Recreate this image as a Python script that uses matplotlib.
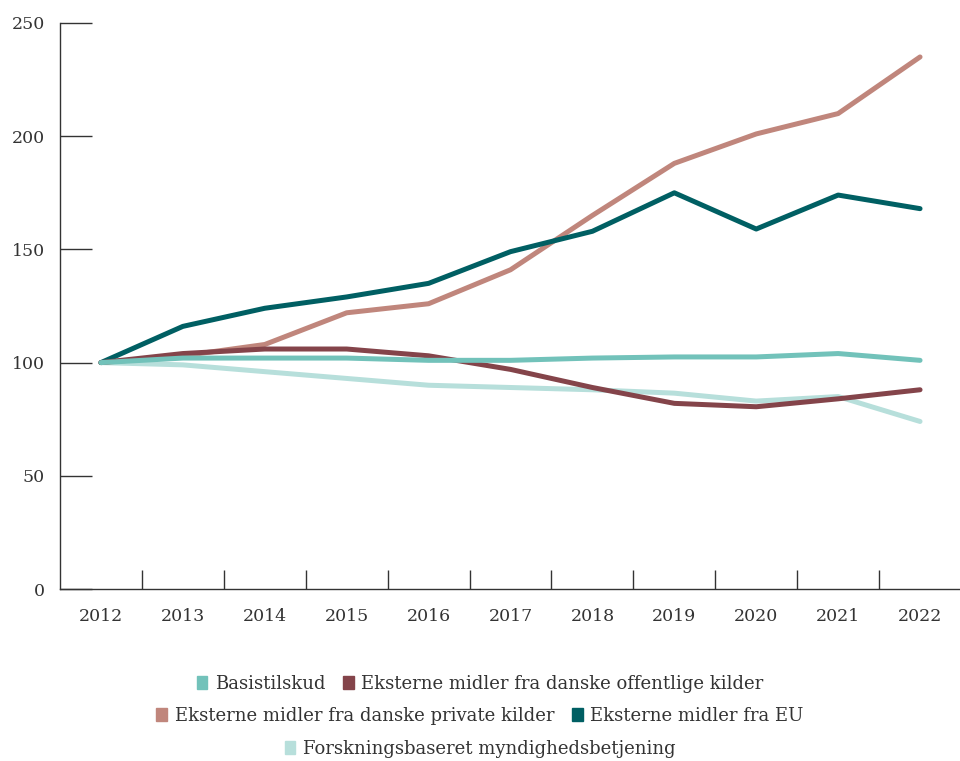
import matplotlib
matplotlib.use('Agg')
import matplotlib.pyplot as plt
from matplotlib.patches import Patch
import numpy as np

plt.rcParams['font.family'] = 'DejaVu Serif'

years = ['2012', '2013', '2014', '2015', '2016', '2017', '2018', '2019', '2020', '2021', '2022']
basis = [100, 102, 102, 102, 101, 101, 102, 102.5, 102.5, 104, 101]
off = [100, 104, 106, 106, 103, 97, 89, 82, 80.5, 84, 88]
priv = [100, 103, 108, 122, 126, 141, 165, 188, 201, 210, 235]
eu = [100, 116, 124, 129, 135, 149, 158, 175, 159, 174, 168]
myn = [100, 99, 96, 93, 90, 89, 88, 86.5, 83, 85, 74]

names = ['Basistilskud', 'Eksterne midler fra danske offentlige kilder',
         'Eksterne midler fra danske private kilder', 'Eksterne midler fra EU',
         'Forskningsbaseret myndighedsbetjening']
colors = ['#72c2ba', '#84444a', '#c0867c', '#005f63', '#b7dfdb']
series = [basis, off, priv, eu, myn]
zorder = [6, 5, 3, 4, 2]
txt = '#333333'

fig = plt.figure(figsize=(9.6, 7.61), dpi=100)
ax = fig.add_axes([60/960, 1-589/761, 901/960, 566/761])

x = np.arange(len(years))
for s, c, z in zip(series, colors, zorder):
    ax.plot(x, s, color=c, lw=3.6, solid_capstyle='round', solid_joinstyle='round', zorder=z)

ax.set_xlim(-0.5, len(years) - 0.5)
ax.set_ylim(0, 250)
ax.set_yticks([0, 50, 100, 150, 200, 250])
ax.set_xticks(x)
ax.set_xticklabels(years)
ax.set_xticks(x[:-1] + 0.5, minor=True)
ax.tick_params(axis='x', which='major', length=0, pad=14, labelsize=12.5, labelcolor=txt)
ax.tick_params(axis='x', which='minor', direction='in', length=14, width=1, color=txt)
ax.tick_params(axis='y', direction='in', length=23, width=1, color=txt, pad=11, labelsize=12.5, labelcolor=txt)
for sp in ['top', 'right']:
    ax.spines[sp].set_visible(False)
for sp in ['left', 'bottom']:
    ax.spines[sp].set_color(txt)
    ax.spines[sp].set_linewidth(1)

# legend: three centred rows
rows = [[0, 1], [2, 3], [4]]
ys = [1 - 684/761, 1 - 716/761, 1 - 749/761]
for r, yy in zip(rows, ys):
    h = [Patch(color=colors[i]) for i in r]
    fig.legend(h, [names[i] for i in r], loc='center', bbox_to_anchor=(0.5, yy),
               ncol=len(r), frameon=False, fontsize=13, handlelength=0.6, handleheight=0.7,
               handletextpad=0.4, columnspacing=1.0, labelcolor=txt, borderpad=0)

fig.savefig('out.png', dpi=100)
